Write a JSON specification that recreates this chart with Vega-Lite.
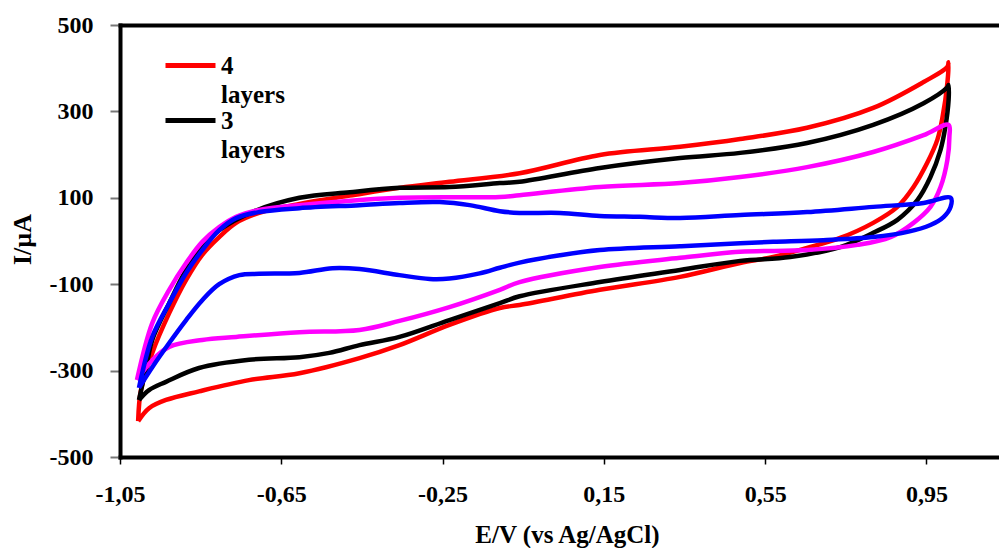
{
  "$schema": "https://vega.github.io/schema/vega-lite/v6.json",
  "width": 879,
  "height": 432,
  "autosize": {"type": "none"},
  "padding": {"left": 120, "top": 25, "right": 0, "bottom": 91},
  "background": "white",
  "config": {"view": {"stroke": null}, "font": "Liberation Serif, Times New Roman, Times, serif",
    "style": {"guide-label": {"lineHeight": 29}}},
  "data": {"values": [
    {"s":"4 layers","i":0,"E":-1.005,"I":-417},
    {"s":"4 layers","i":1,"E":-0.998,"I":-345},
    {"s":"4 layers","i":2,"E":-0.970,"I":-259},
    {"s":"4 layers","i":3,"E":-0.928,"I":-167},
    {"s":"4 layers","i":4,"E":-0.886,"I":-90},
    {"s":"4 layers","i":5,"E":-0.846,"I":-32},
    {"s":"4 layers","i":6,"E":-0.804,"I":9},
    {"s":"4 layers","i":7,"E":-0.762,"I":42},
    {"s":"4 layers","i":8,"E":-0.705,"I":65},
    {"s":"4 layers","i":9,"E":-0.605,"I":86},
    {"s":"4 layers","i":10,"E":-0.480,"I":105},
    {"s":"4 layers","i":11,"E":-0.357,"I":123},
    {"s":"4 layers","i":12,"E":-0.233,"I":137},
    {"s":"4 layers","i":13,"E":-0.059,"I":157},
    {"s":"4 layers","i":14,"E":0.140,"I":199},
    {"s":"4 layers","i":15,"E":0.339,"I":218},
    {"s":"4 layers","i":16,"E":0.488,"I":236},
    {"s":"4 layers","i":17,"E":0.654,"I":262},
    {"s":"4 layers","i":18,"E":0.818,"I":308},
    {"s":"4 layers","i":19,"E":0.943,"I":368},
    {"s":"4 layers","i":20,"E":1.002,"I":403},
    {"s":"4 layers","i":21,"E":1.005,"I":414},
    {"s":"4 layers","i":22,"E":1.002,"I":366},
    {"s":"4 layers","i":23,"E":0.990,"I":287},
    {"s":"4 layers","i":24,"E":0.977,"I":234},
    {"s":"4 layers","i":25,"E":0.952,"I":181},
    {"s":"4 layers","i":26,"E":0.918,"I":125},
    {"s":"4 layers","i":27,"E":0.878,"I":79},
    {"s":"4 layers","i":28,"E":0.818,"I":42},
    {"s":"4 layers","i":29,"E":0.736,"I":7},
    {"s":"4 layers","i":30,"E":0.654,"I":-16},
    {"s":"4 layers","i":31,"E":0.570,"I":-37},
    {"s":"4 layers","i":32,"E":0.488,"I":-51},
    {"s":"4 layers","i":33,"E":0.339,"I":-83},
    {"s":"4 layers","i":34,"E":0.140,"I":-113},
    {"s":"4 layers","i":35,"E":-0.059,"I":-148},
    {"s":"4 layers","i":36,"E":-0.108,"I":-155},
    {"s":"4 layers","i":37,"E":-0.233,"I":-194},
    {"s":"4 layers","i":38,"E":-0.357,"I":-241},
    {"s":"4 layers","i":39,"E":-0.456,"I":-271},
    {"s":"4 layers","i":40,"E":-0.605,"I":-306},
    {"s":"4 layers","i":41,"E":-0.730,"I":-322},
    {"s":"4 layers","i":42,"E":-0.854,"I":-348},
    {"s":"4 layers","i":43,"E":-0.936,"I":-368},
    {"s":"4 layers","i":44,"E":-0.978,"I":-387},
    {"s":"4 layers","i":45,"E":-1.005,"I":-417},

    {"s":"3 layers","i":0,"E":-1.003,"I":-368},
    {"s":"3 layers","i":1,"E":-0.985,"I":-292},
    {"s":"3 layers","i":2,"E":-0.970,"I":-229},
    {"s":"3 layers","i":3,"E":-0.928,"I":-144},
    {"s":"3 layers","i":4,"E":-0.886,"I":-67},
    {"s":"3 layers","i":5,"E":-0.846,"I":-14},
    {"s":"3 layers","i":6,"E":-0.804,"I":25},
    {"s":"3 layers","i":7,"E":-0.722,"I":67},
    {"s":"3 layers","i":8,"E":-0.605,"I":100},
    {"s":"3 layers","i":9,"E":-0.480,"I":113},
    {"s":"3 layers","i":10,"E":-0.357,"I":123},
    {"s":"3 layers","i":11,"E":-0.233,"I":125},
    {"s":"3 layers","i":12,"E":-0.108,"I":134},
    {"s":"3 layers","i":13,"E":-0.059,"I":137},
    {"s":"3 layers","i":14,"E":0.140,"I":169},
    {"s":"3 layers","i":15,"E":0.339,"I":192},
    {"s":"3 layers","i":16,"E":0.488,"I":204},
    {"s":"3 layers","i":17,"E":0.654,"I":227},
    {"s":"3 layers","i":18,"E":0.818,"I":269},
    {"s":"3 layers","i":19,"E":0.943,"I":319},
    {"s":"3 layers","i":20,"E":1.002,"I":356},
    {"s":"3 layers","i":21,"E":1.005,"I":361},
    {"s":"3 layers","i":22,"E":1.005,"I":326},
    {"s":"3 layers","i":23,"E":0.997,"I":264},
    {"s":"3 layers","i":24,"E":0.985,"I":211},
    {"s":"3 layers","i":25,"E":0.960,"I":148},
    {"s":"3 layers","i":26,"E":0.928,"I":95},
    {"s":"3 layers","i":27,"E":0.878,"I":49},
    {"s":"3 layers","i":28,"E":0.818,"I":19},
    {"s":"3 layers","i":29,"E":0.736,"I":-14},
    {"s":"3 layers","i":30,"E":0.612,"I":-37},
    {"s":"3 layers","i":31,"E":0.488,"I":-46},
    {"s":"3 layers","i":32,"E":0.339,"I":-67},
    {"s":"3 layers","i":33,"E":0.140,"I":-95},
    {"s":"3 layers","i":34,"E":-0.059,"I":-128},
    {"s":"3 layers","i":35,"E":-0.108,"I":-144},
    {"s":"3 layers","i":36,"E":-0.233,"I":-183},
    {"s":"3 layers","i":37,"E":-0.357,"I":-222},
    {"s":"3 layers","i":38,"E":-0.456,"I":-241},
    {"s":"3 layers","i":39,"E":-0.531,"I":-259},
    {"s":"3 layers","i":40,"E":-0.605,"I":-269},
    {"s":"3 layers","i":41,"E":-0.730,"I":-275},
    {"s":"3 layers","i":42,"E":-0.854,"I":-294},
    {"s":"3 layers","i":43,"E":-0.936,"I":-326},
    {"s":"3 layers","i":44,"E":-0.978,"I":-345},
    {"s":"3 layers","i":45,"E":-1.003,"I":-368},

    {"s":"2 layers","i":0,"E":-1.008,"I":-322},
    {"s":"2 layers","i":1,"E":-0.970,"I":-190},
    {"s":"2 layers","i":2,"E":-0.928,"I":-113},
    {"s":"2 layers","i":3,"E":-0.886,"I":-51},
    {"s":"2 layers","i":4,"E":-0.846,"I":-2},
    {"s":"2 layers","i":5,"E":-0.804,"I":32},
    {"s":"2 layers","i":6,"E":-0.762,"I":56},
    {"s":"2 layers","i":7,"E":-0.705,"I":72},
    {"s":"2 layers","i":8,"E":-0.605,"I":83},
    {"s":"2 layers","i":9,"E":-0.357,"I":100},
    {"s":"2 layers","i":10,"E":-0.108,"I":102},
    {"s":"2 layers","i":11,"E":-0.059,"I":106},
    {"s":"2 layers","i":12,"E":0.140,"I":125},
    {"s":"2 layers","i":13,"E":0.339,"I":134},
    {"s":"2 layers","i":14,"E":0.488,"I":148},
    {"s":"2 layers","i":15,"E":0.654,"I":171},
    {"s":"2 layers","i":16,"E":0.818,"I":206},
    {"s":"2 layers","i":17,"E":0.943,"I":245},
    {"s":"2 layers","i":18,"E":1.005,"I":269},
    {"s":"2 layers","i":19,"E":1.007,"I":241},
    {"s":"2 layers","i":20,"E":1.002,"I":188},
    {"s":"2 layers","i":21,"E":0.985,"I":125},
    {"s":"2 layers","i":22,"E":0.960,"I":79},
    {"s":"2 layers","i":23,"E":0.918,"I":42},
    {"s":"2 layers","i":24,"E":0.861,"I":9},
    {"s":"2 layers","i":25,"E":0.779,"I":-9},
    {"s":"2 layers","i":26,"E":0.654,"I":-21},
    {"s":"2 layers","i":27,"E":0.488,"I":-25},
    {"s":"2 layers","i":28,"E":0.339,"I":-39},
    {"s":"2 layers","i":29,"E":0.140,"I":-60},
    {"s":"2 layers","i":30,"E":-0.059,"I":-95},
    {"s":"2 layers","i":31,"E":-0.108,"I":-113},
    {"s":"2 layers","i":32,"E":-0.233,"I":-153},
    {"s":"2 layers","i":33,"E":-0.357,"I":-185},
    {"s":"2 layers","i":34,"E":-0.456,"I":-206},
    {"s":"2 layers","i":35,"E":-0.605,"I":-211},
    {"s":"2 layers","i":36,"E":-0.762,"I":-222},
    {"s":"2 layers","i":37,"E":-0.846,"I":-229},
    {"s":"2 layers","i":38,"E":-0.928,"I":-245},
    {"s":"2 layers","i":39,"E":-0.970,"I":-276},
    {"s":"2 layers","i":40,"E":-1.008,"I":-322},

    {"s":"1 layer","i":0,"E":-1.003,"I":-340},
    {"s":"1 layer","i":1,"E":-0.970,"I":-222},
    {"s":"1 layer","i":2,"E":-0.928,"I":-144},
    {"s":"1 layer","i":3,"E":-0.886,"I":-74},
    {"s":"1 layer","i":4,"E":-0.846,"I":-21},
    {"s":"1 layer","i":5,"E":-0.804,"I":25},
    {"s":"1 layer","i":6,"E":-0.762,"I":53},
    {"s":"1 layer","i":7,"E":-0.705,"I":67},
    {"s":"1 layer","i":8,"E":-0.605,"I":76},
    {"s":"1 layer","i":9,"E":-0.456,"I":83},
    {"s":"1 layer","i":10,"E":-0.357,"I":88},
    {"s":"1 layer","i":11,"E":-0.257,"I":90},
    {"s":"1 layer","i":12,"E":-0.183,"I":83},
    {"s":"1 layer","i":13,"E":-0.108,"I":69},
    {"s":"1 layer","i":14,"E":-0.059,"I":65},
    {"s":"1 layer","i":15,"E":0.041,"I":65},
    {"s":"1 layer","i":16,"E":0.140,"I":58},
    {"s":"1 layer","i":17,"E":0.239,"I":56},
    {"s":"1 layer","i":18,"E":0.339,"I":53},
    {"s":"1 layer","i":19,"E":0.488,"I":60},
    {"s":"1 layer","i":20,"E":0.654,"I":67},
    {"s":"1 layer","i":21,"E":0.818,"I":79},
    {"s":"1 layer","i":22,"E":0.943,"I":88},
    {"s":"1 layer","i":23,"E":1.010,"I":100},
    {"s":"1 layer","i":24,"E":1.010,"I":79},
    {"s":"1 layer","i":25,"E":0.993,"I":56},
    {"s":"1 layer","i":26,"E":0.960,"I":37},
    {"s":"1 layer","i":27,"E":0.903,"I":21},
    {"s":"1 layer","i":28,"E":0.818,"I":9},
    {"s":"1 layer","i":29,"E":0.694,"I":2},
    {"s":"1 layer","i":30,"E":0.570,"I":-2},
    {"s":"1 layer","i":31,"E":0.488,"I":-5},
    {"s":"1 layer","i":32,"E":0.339,"I":-12},
    {"s":"1 layer","i":33,"E":0.140,"I":-21},
    {"s":"1 layer","i":34,"E":0.041,"I":-33},
    {"s":"1 layer","i":35,"E":-0.059,"I":-50},
    {"s":"1 layer","i":36,"E":-0.108,"I":-62},
    {"s":"1 layer","i":37,"E":-0.158,"I":-75},
    {"s":"1 layer","i":38,"E":-0.233,"I":-87},
    {"s":"1 layer","i":39,"E":-0.282,"I":-88},
    {"s":"1 layer","i":40,"E":-0.357,"I":-79},
    {"s":"1 layer","i":41,"E":-0.456,"I":-65},
    {"s":"1 layer","i":42,"E":-0.523,"I":-63},
    {"s":"1 layer","i":43,"E":-0.605,"I":-74},
    {"s":"1 layer","i":44,"E":-0.705,"I":-76},
    {"s":"1 layer","i":45,"E":-0.754,"I":-79},
    {"s":"1 layer","i":46,"E":-0.804,"I":-100},
    {"s":"1 layer","i":47,"E":-0.846,"I":-137},
    {"s":"1 layer","i":48,"E":-0.886,"I":-183},
    {"s":"1 layer","i":49,"E":-0.928,"I":-236},
    {"s":"1 layer","i":50,"E":-0.970,"I":-292},
    {"s":"1 layer","i":51,"E":-1.003,"I":-340}
  ]},
  "layer": [
    {
      "mark": {"type": "line", "strokeWidth": 4.5, "interpolate": "catmull-rom", "strokeJoin": "round"},
      "encoding": {
        "x": {"field": "E", "type": "quantitative",
          "scale": {"domain": [-1.05, 1.13], "nice": false, "zero": false},
          "axis": {"orient": "bottom", "values": [-1.05, -0.65, -0.25, 0.15, 0.55, 0.95],
            "labelExpr": "replace(toString(datum.value), '.', ',')",
            "grid": false, "domainWidth": 4, "domainColor": "#000", "domainCap": "square",
            "tickColor": "#000", "tickWidth": 1.5, "tickSize": 7, "labelPadding": 18,
            "labelFlush": false, "labelOverlap": false,
            "labelFont": "Liberation Serif, Times New Roman, serif", "labelFontSize": 24, "labelFontWeight": "bold", "labelColor": "#000",
            "title": "E/V (vs Ag/AgCl)", "titleFont": "Liberation Serif, Times New Roman, serif", "titleFontSize": 25, "titleFontWeight": "bold", "titleColor": "#000",
            "titleX": 447, "titleY": 77, "titleBaseline": "middle", "titleAlign": "center"}},
        "y": {"field": "I", "type": "quantitative",
          "scale": {"domain": [-500, 500], "nice": false, "zero": false},
          "axis": {"values": [-500, -300, -100, 100, 300, 500],
            "labelExpr": "toString(datum.value)",
            "grid": false, "domainWidth": 4, "domainColor": "#000", "domainCap": "square",
            "tickColor": "#777", "tickWidth": 2, "tickSize": 10, "labelPadding": 17,
            "labelFlush": false, "labelOverlap": false,
            "labelFont": "Liberation Serif, Times New Roman, serif", "labelFontSize": 24, "labelFontWeight": "bold", "labelColor": "#000",
            "title": "I/µA", "titleFont": "Liberation Serif, Times New Roman, serif", "titleFontSize": 26, "titleFontWeight": "bold", "titleColor": "#000",
            "titleAngle": -90, "titleX": -98, "titleY": 214, "titleBaseline": "middle", "titleAlign": "center"}},
        "color": {"field": "s", "type": "nominal",
          "scale": {"domain": ["4 layers", "3 layers", "2 layers", "1 layer"], "range": ["#FF0000", "#000000", "#FF00FF", "#0000FF"]},
          "legend": {"values": ["4 layers", "3 layers"], "orient": "none", "legendX": 48, "legendY": 28,
            "title": null, "symbolType": "M-2.941,0H2.941", "symbolSize": 289, "symbolStrokeWidth": 5, "symbolOffset": 10,
            "labelFont": "Liberation Serif, Times New Roman, serif", "labelFontSize": 25, "labelFontWeight": "bold", "labelColor": "#000",
            "labelExpr": "split(datum.label, ' ')", "labelBaseline": "middle",
            "labelOffset": 18, "labelLimit": 0, "padding": 0, "rowPadding": 0}},
        "order": {"field": "i", "type": "quantitative"}
      }
    },
    {
      "mark": {"type": "point", "opacity": 0},
      "encoding": {
        "x": {"field": "E", "type": "quantitative",
          "axis": {"orient": "top", "labels": false, "ticks": false, "title": null, "grid": false,
            "domainWidth": 4, "domainColor": "#000", "domainCap": "square"}}
      }
    }
  ],
  "resolve": {"axis": {"x": "independent"}}
}
